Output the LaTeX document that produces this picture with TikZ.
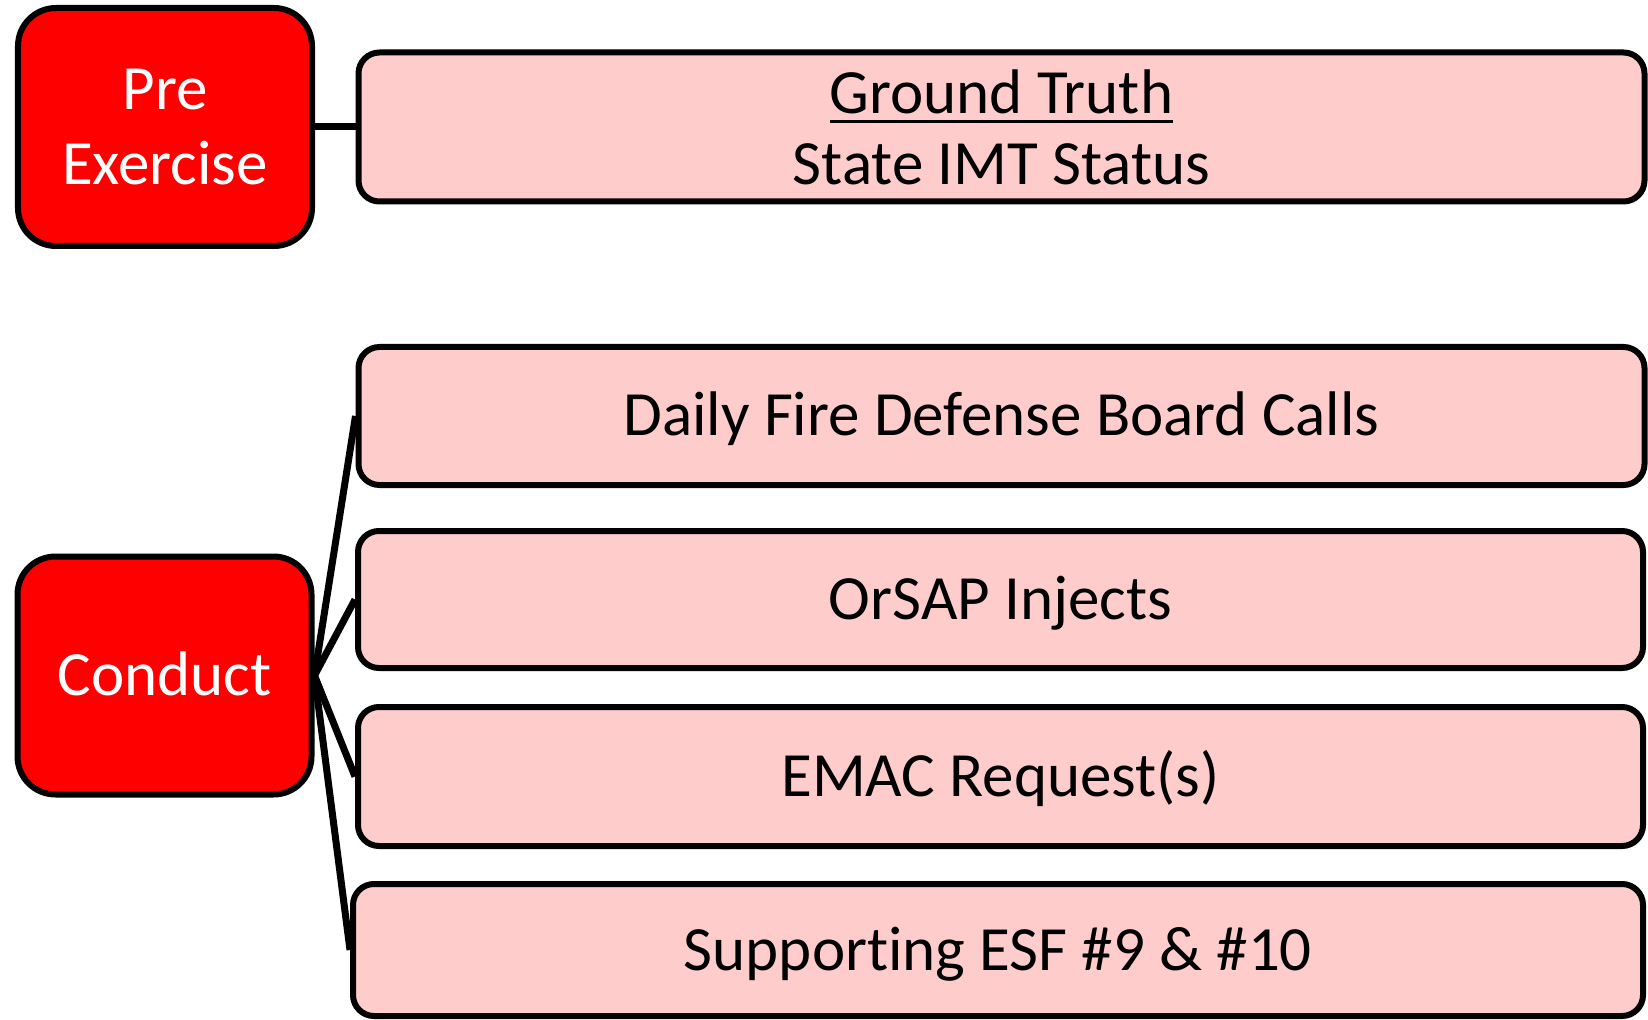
\documentclass[tikz,border=0pt]{standalone}
\usepackage{fontspec}
\setmainfont{Carlito}[RawFeature={-liga;-clig;-calt;-dlig}]
\usepackage{tikz}

\definecolor{phasered}{HTML}{FF0000}
\definecolor{itempink}{HTML}{FFCCCC}

\newcommand{\gtline}[1]{\setbox0\hbox{#1}\rlap{\copy0}\rule[-4.75pt]{\wd0}{1.5pt}}

\begin{document}
\begin{tikzpicture}[x=50pt,y=50pt,
  phase/.style={draw, line width=3pt, fill=phasered, text=white, rounded corners=19pt,
    align=center, font=\fontsize{31.5}{37.5}\selectfont, minimum width=147pt, minimum height=119pt},
  item/.style={draw, line width=3pt, fill=itempink, rounded corners=10.5pt,
    align=center, font=\fontsize{31.5}{35.5}\selectfont, minimum width=643pt},
  oneline/.style={text height=20pt, text depth=0pt}]
\useasboundingbox (0,0) rectangle (16.48,10.19);

\node[phase] (pre) at (1.65,8.92) {Pre\\Exercise};
\node[item,minimum height=74.5pt] (truth) at (10.015,8.92) {\gtline{Ground Truth}\\State IMT Status};
\path[draw,line width=3.5pt,-] (pre) -- (truth);

\node[phase,oneline] (cond) at (1.645,3.435) {Conduct};
\node[item,oneline,minimum height=69pt] (fdb) at (10.015,6.03) {Daily Fire Defense Board Calls};
\node[item,oneline,minimum width=642.5pt,minimum height=68.5pt] (orsap) at (10.005,4.195) {OrSAP Injects};
\node[item,oneline,minimum width=642.5pt,minimum height=69.5pt] (emac) at (10.005,2.425) {EMAC Request(s)};
\node[item,oneline,minimum width=645pt,minimum height=66pt] (esf) at (9.98,0.69) {Supporting ESF \#9 \& \#10};

\path[draw,line width=3.5pt,-] (cond.east) -- (fdb.west);
\path[draw,line width=3.5pt,-] (cond.east) -- (orsap.west);
\path[draw,line width=3.5pt,-] (cond.east) -- (emac.west);
\path[draw,line width=3.5pt,-] (cond.east) -- (esf.west);
\end{tikzpicture}
\end{document}
